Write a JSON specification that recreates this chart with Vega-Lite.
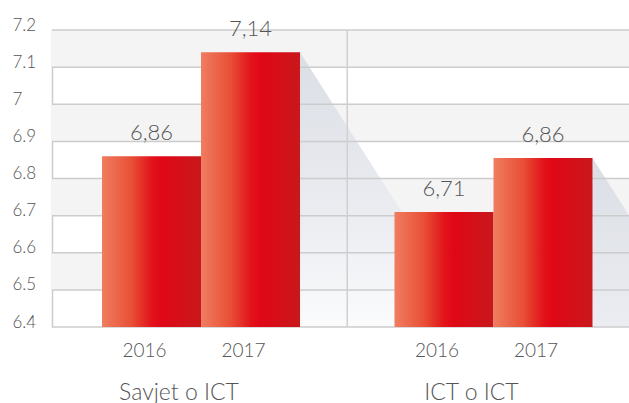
{
  "$schema": "https://vega.github.io/schema/vega-lite/v6.json",
  "width": 577,
  "height": 297,
  "autosize": {"type": "none"},
  "padding": {"left": 52, "top": 30, "right": 0, "bottom": 76},
  "background": "white",
  "config": {
    "view": {"stroke": null},
    "font": "Lato",
    "axisY": {
      "values": [6.4, 6.5, 6.6, 6.7, 6.8, 6.9, 7.0, 7.1, 7.2],
      "format": "~g",
      "labelAlign": "left",
      "labelBaseline": "alphabetic",
      "labelPadding": 40,
      "ticks": false,
      "tickSize": 0,
      "grid": false,
      "domain": true,
      "domainColor": "#cccccc",
      "domainWidth": 1.5,
      "labelFontSize": 17,
      "labelFontWeight": 300,
      "labelColor": "#555555",
      "labelFont": "Lato"
    },
    "axisX": {
      "ticks": false,
      "domain": false,
      "grid": false,
      "labelFontSize": 23,
      "labelFontWeight": 300,
      "labelColor": "#555555",
      "labelFont": "Lato",
      "labelPadding": 72,
      "labelBaseline": "alphabetic",
      "labelOffset": -22,
      "labelAngle": 0
    }
  },
  "datasets": {
    "bars": [
      {"group": "Savjet o ICT", "year": "2016", "value": 6.86, "label": "6,86"},
      {"group": "Savjet o ICT", "year": "2017", "value": 7.14, "label": "7,14"},
      {"group": "ICT o ICT", "year": "2016", "value": 6.71, "label": "6,71"},
      {"group": "ICT o ICT", "year": "2017", "value": 6.855, "label": "6,86"}
    ],
    "bands": [
      {"lo": 7.1, "hi": 7.2},
      {"lo": 6.9, "hi": 7.0},
      {"lo": 6.7, "hi": 6.8},
      {"lo": 6.5, "hi": 6.6}
    ],
    "grid": [
      {"v": 6.4}, {"v": 6.5}, {"v": 6.6}, {"v": 6.7}, {"v": 6.8},
      {"v": 6.9}, {"v": 7.0}, {"v": 7.1}, {"v": 7.2}
    ],
    "sep": [{"group": "ICT o ICT"}]
  },
  "layer": [
    {
      "data": {"name": "bands"},
      "mark": {"type": "rect", "color": "#f4f4f4"},
      "encoding": {
        "y": {"field": "lo", "type": "quantitative", "title": null,
              "scale": {"domain": [6.4, 7.2], "nice": false, "zero": false}},
        "y2": {"field": "hi"}
      }
    },
    {
      "data": {"name": "bars"},
      "mark": {
        "type": "point",
        "filled": true,
        "clip": true,
        "size": 90000,
        "opacity": 1,
        "shape": "M0.33,0L1.604,2L0.33,2Z",
        "fill": {
          "gradient": "linear", "x1": 0, "y1": 0, "x2": 0, "y2": 1,
          "stops": [
            {"offset": 0, "color": "#dbdee5"},
            {"offset": 0.6, "color": "#eceef2"},
            {"offset": 1, "color": "#ffffff"}
          ]
        },
        "strokeWidth": 0
      },
      "encoding": {
        "x": {"field": "group", "type": "nominal", "title": null, "sort": null,
              "scale": {"domain": ["Savjet o ICT", "ICT o ICT"], "range": [0, 590.5], "paddingInner": 0, "paddingOuter": 0.0094}},
        "xOffset": {"field": "year", "type": "nominal",
                    "scale": {"paddingInner": 0, "paddingOuter": 0.477}},
        "y": {"field": "value", "type": "quantitative", "title": null}
      }
    },
    {
      "data": {"name": "grid"},
      "mark": {"type": "rule", "color": "#cccccc", "strokeWidth": 1.5},
      "encoding": {
        "y": {"field": "v", "type": "quantitative", "title": null}
      }
    },
    {
      "data": {"name": "sep"},
      "mark": {"type": "rule", "color": "#d0d0d0", "strokeWidth": 1.5},
      "encoding": {
        "x": {"field": "group", "type": "nominal", "title": null, "bandPosition": 0}
      }
    },
    {
      "data": {"name": "bars"},
      "mark": {
        "type": "bar",
        "fill": {
          "gradient": "linear", "x1": 0, "y1": 0, "x2": 1, "y2": 0,
          "stops": [
            {"offset": 0, "color": "#f07d60"},
            {"offset": 0.3, "color": "#e84f36"},
            {"offset": 0.5, "color": "#e2141b"},
            {"offset": 0.6, "color": "#e00716"},
            {"offset": 1, "color": "#c8181b"}
          ]
        }
      },
      "encoding": {
        "x": {"field": "group", "type": "nominal", "title": null},
        "xOffset": {"field": "year", "type": "nominal"},
        "y": {"field": "value", "type": "quantitative", "title": null},
        "y2": {"datum": 6.4}
      }
    },
    {
      "data": {"name": "bars"},
      "mark": {"type": "text", "baseline": "alphabetic", "dy": -16, "fontSize": 22, "fontWeight": 300, "color": "#555555", "font": "Lato"},
      "encoding": {
        "x": {"field": "group", "type": "nominal", "title": null},
        "xOffset": {"field": "year", "type": "nominal"},
        "y": {"field": "value", "type": "quantitative", "title": null},
        "text": {"field": "label"}
      }
    },
    {
      "data": {"name": "bars"},
      "mark": {"type": "text", "baseline": "alphabetic", "dy": 30, "dx": -7, "fontSize": 19, "fontWeight": 300, "color": "#555555", "font": "Lato"},
      "encoding": {
        "x": {"field": "group", "type": "nominal", "title": null},
        "xOffset": {"field": "year", "type": "nominal"},
        "y": {"datum": 6.4},
        "text": {"field": "year"}
      }
    }
  ]
}
